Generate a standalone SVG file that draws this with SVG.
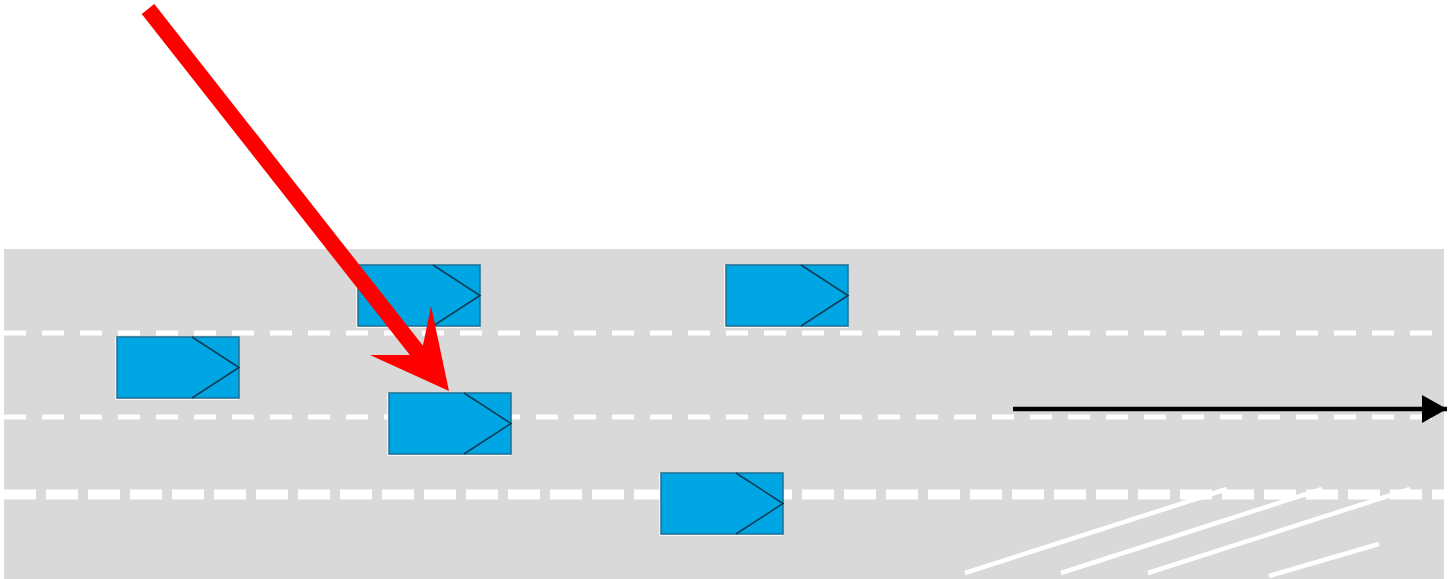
<svg xmlns="http://www.w3.org/2000/svg" width="1449" height="579" viewBox="0 0 1449 579">
  <style>
    .road { fill: #d9d9d9; }
    .lane { stroke: #ffffff; fill: none; }
    .thin { stroke-width: 5; stroke-dasharray: 22 16; }
    .thick { stroke-width: 10; stroke-dasharray: 32 10; }
    .hatch { stroke: #ffffff; stroke-width: 4.5; fill: none; }
    .body { fill: #00a6e3; stroke: #1d6f95; stroke-width: 1.5; }
    .shade { stroke: #ffffff; stroke-width: 1.5; fill: none; }
    .nose { fill: none; stroke: #0e3c52; stroke-width: 1.5; }
  </style>
  <defs>
    <g id="car">
      <polyline class="shade" points="-1,0 -1,62 122,62"/>
      <rect class="body" x="0" y="0" width="122" height="61"/>
      <polyline class="nose" points="75,0 122,30.5 75,61"/>
    </g>
    <marker id="head" markerWidth="25" markerHeight="28" refX="25" refY="14" orient="auto" markerUnits="userSpaceOnUse">
      <path d="M0,0 L25,14 L0,28 Z" fill="#000000"/>
    </marker>
  </defs>

  <!-- road surface and markings -->
  <g id="road">
    <rect class="road" x="4" y="249" width="1440" height="330"/>
    <line class="lane thin" x1="4" y1="333" x2="1444" y2="333"/>
    <line class="lane thin" x1="4" y1="417" x2="1444" y2="417"/>
    <line class="lane thick" x1="4" y1="494.5" x2="1444" y2="494.5"/>
    <line class="hatch" x1="965" y1="573" x2="1227" y2="489"/>
    <line class="hatch" x1="1061" y1="573" x2="1322" y2="489"/>
    <line class="hatch" x1="1148" y1="573" x2="1410" y2="489"/>
    <line class="hatch" x1="1269" y1="576" x2="1379" y2="544"/>
  </g>

  <!-- vehicles -->
  <g id="car-left"><use href="#car" x="117" y="337"/></g>
  <g id="car-top"><use href="#car" x="358" y="265"/></g>
  <g id="car-target"><use href="#car" x="389" y="393"/></g>
  <g id="car-top-right"><use href="#car" x="726" y="265"/></g>
  <g id="car-bottom"><use href="#car" x="661" y="473"/></g>

  <!-- arrows -->
  <g id="connectors">
    <line x1="148" y1="9" x2="424" y2="360" stroke="#ff0000" stroke-width="16"/>
    <polygon points="449,391 431,306 421,355 370,355" fill="#ff0000"/>
    <line x1="1013" y1="409" x2="1447" y2="409" stroke="#000000" stroke-width="4.5" marker-end="url(#head)"/>
  </g>
</svg>
